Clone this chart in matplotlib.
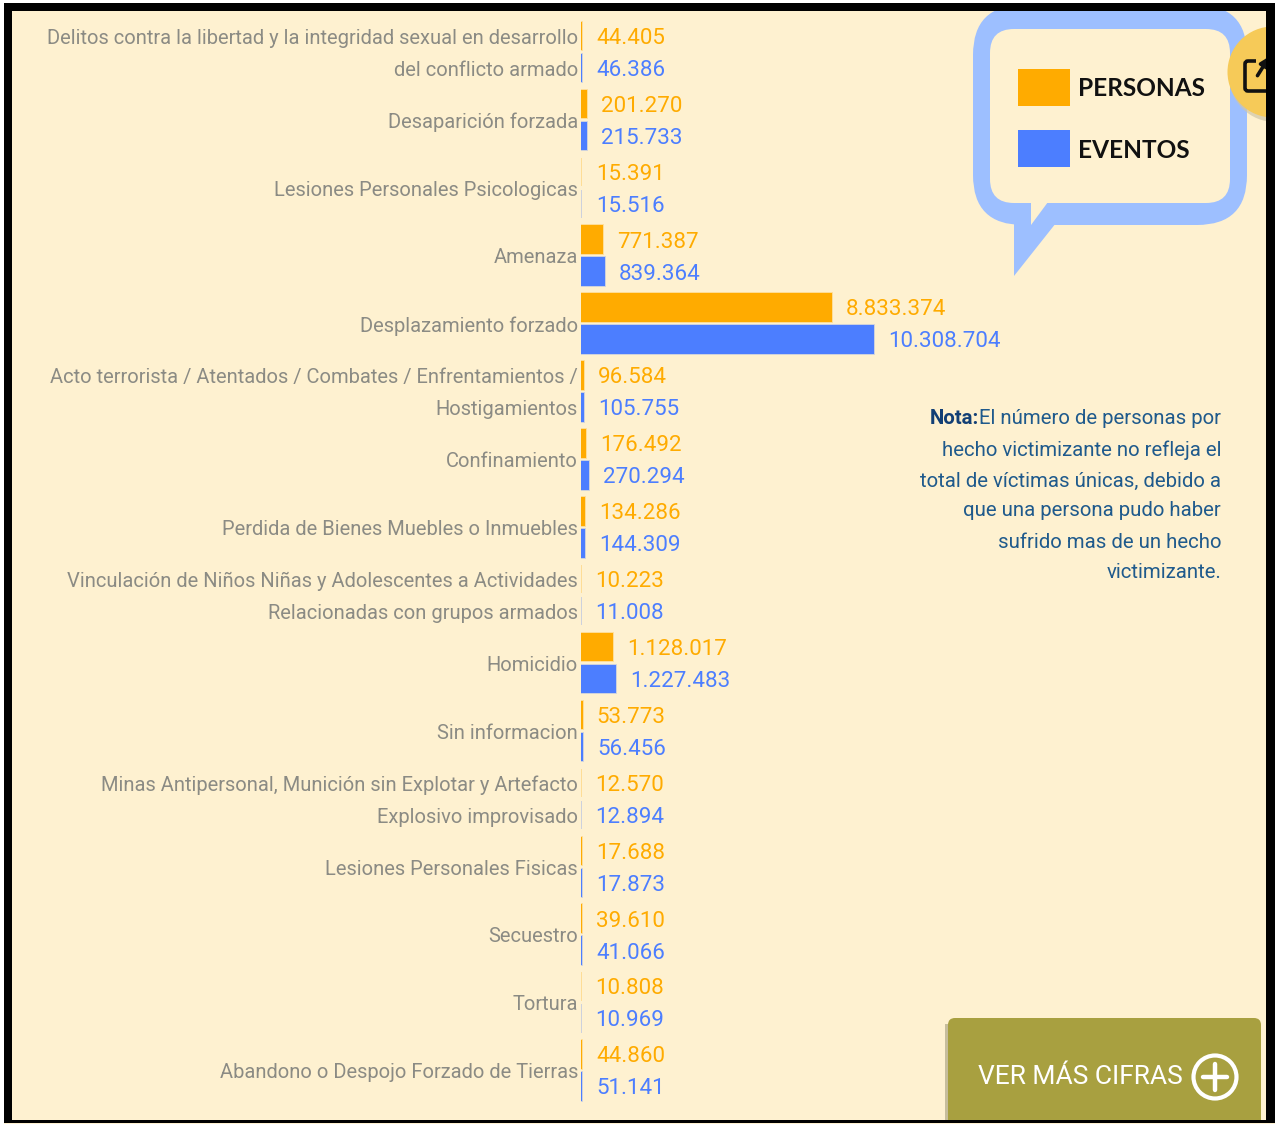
import matplotlib
matplotlib.use("Agg")
import matplotlib.pyplot as plt
from matplotlib.colors import to_rgba
from matplotlib.patches import FancyBboxPatch, Rectangle, Polygon, Circle
from matplotlib.transforms import ScaledTranslation

categories = [
    "Delitos contra la libertad y la integridad sexual en desarrollo\ndel conflicto armado",
    "Desaparición forzada",
    "Lesiones Personales Psicologicas",
    "Amenaza",
    "Desplazamiento forzado",
    "Acto terrorista / Atentados / Combates / Enfrentamientos /\nHostigamientos",
    "Confinamiento",
    "Perdida de Bienes Muebles o Inmuebles",
    "Vinculación de Niños Niñas y Adolescentes a Actividades\nRelacionadas con grupos armados",
    "Homicidio",
    "Sin informacion",
    "Minas Antipersonal, Munición sin Explotar y Artefacto\nExplosivo improvisado",
    "Lesiones Personales Fisicas",
    "Secuestro",
    "Tortura",
    "Abandono o Despojo Forzado de Tierras",
]
personas = [44405, 201270, 15391, 771387, 8833374, 96584, 176492, 134286,
            10223, 1128017, 53773, 12570, 17688, 39610, 10808, 44860]
eventos = [46386, 215733, 15516, 839364, 10308704, 105755, 270294, 144309,
           11008, 1227483, 56456, 12894, 17873, 41066, 10969, 51141]
nota_lines = ["El número de personas por", "hecho victimizante no refleja el",
              "total de víctimas únicas, debido a", "que una persona pudo haber",
              "sufrido mas de un hecho", "victimizante."]

W, H = 1275, 1124
BG, ORANGE, BLUE = "#FEF1D0", "#FFAB00", "#4C7EFF"
BUBBLE, GREY, NOTE = "#9DBFFF", "#8B8B84", "#1F5A8C"
FONT = "Roboto"

fig = plt.figure(figsize=(W / 100, H / 100), dpi=100, facecolor="white")
bg = fig.add_axes([0, 0, 1, 1], zorder=0)
bg.set_xlim(0, W); bg.set_ylim(H, 0); bg.axis("off")

# panel
bg.add_patch(Rectangle((4, 3), W, H, fc=BG, ec="none", zorder=0))

# speech bubble legend
bg.add_patch(FancyBboxPatch((973 + 50, 5 + 50), 174, 120,
                            boxstyle="round,pad=50,rounding_size=50", fc=BUBBLE, ec="none", zorder=1))
bg.add_patch(Polygon([(1014, 276), (1014, 215), (1056, 223)], fc=BUBBLE, ec="none", zorder=1))
bg.add_patch(FancyBboxPatch((990 + 24, 29 + 24), 192, 126,
                            boxstyle="round,pad=24,rounding_size=24", fc=BG, ec="none", zorder=2))
bg.add_patch(Polygon([(1031, 225), (1031, 202), (1048, 202)], fc=BG, ec="none", zorder=2))
bg.add_patch(Rectangle((1018, 69), 52, 37, fc=ORANGE, ec="none", zorder=3))
bg.add_patch(Rectangle((1018, 130), 52, 37, fc=BLUE, ec="none", zorder=3))
bg.text(1078, 89, "PERSONAS", family="Lato", fontweight="bold", fontsize=17.6, color="#111111",
        va="center", ha="left", zorder=3)
bg.text(1078, 150, "EVENTOS", family="Lato", fontweight="bold", fontsize=17.6, color="#111111",
        va="center", ha="left", zorder=3)

# share button
bg.add_patch(Circle((1275, 76), 46, fc="#CFC6A8", ec="none", zorder=3, alpha=0.7))
bg.add_patch(Circle((1273, 72), 45.5, fc="#F6CA58", ec="none", zorder=4))
bg.add_patch(FancyBboxPatch((1245, 61), 30, 30, boxstyle="round,pad=0,rounding_size=3",
                            fc="none", ec="#111111", lw=2.6, zorder=5))
bg.add_patch(Rectangle((1256, 50), 18, 15, fc="#F6CA58", ec="none", zorder=5))
bg.annotate("", xy=(1271, 54), xytext=(1256, 78), zorder=6,
            arrowprops=dict(arrowstyle="-|>", color="#111111", lw=2.6, mutation_scale=13))

# note
ys = [418, 450, 481, 511, 542, 572]
first = None
for line, y in zip(nota_lines, ys):
    t = bg.text(1221, y, line, family=FONT, fontsize=14.7, color=NOTE, ha="right", va="center")
    first = first or t
bg.annotate("Nota:", xy=(0, 0.5), xycoords=first, ha="right", va="center", family=FONT,
            fontsize=14.7, fontweight="bold", color="#123F75")

# call-to-action button
bg.add_patch(Rectangle((945, 1024), 10, 96, fc="#8F8A6A", ec="none", zorder=1, alpha=0.5))
bg.add_patch(FancyBboxPatch((948, 1018), 313, 60, boxstyle="round,pad=0,rounding_size=7",
                            fc="#A8A040", ec="none", zorder=2))
bg.add_patch(Rectangle((948, 1050), 313, 71, fc="#A8A040", ec="none", zorder=2))
bg.text(978, 1077, "VER MÁS CIFRAS", family=FONT, fontsize=19, color="white",
        ha="left", va="center", zorder=3)
bg.add_patch(Circle((1215, 1077), 21.5, fc="none", ec="white", lw=3, zorder=3))
bg.plot([1215, 1215], [1064, 1090], color="white", lw=3.2, zorder=3, solid_capstyle="round")
bg.plot([1203, 1227], [1077, 1077], color="white", lw=3.2, zorder=3, solid_capstyle="round")

# black frame
for r in [(4, 3, W, 8), (4, 3, 8, 1120), (1266, 3, 9, 1120), (4, 1120, W, 3)]:
    bg.add_patch(Rectangle((r[0], r[1]), r[2], r[3], fc="black", ec="none", zorder=10))

# chart: x=0 at 581 px, 28.4 px per million; rows 67.9 px apart
X0, PXM, Y0, STEP = 581, 28.4e-6, 52, 67.9
top, bottom, right = 11, 1120, 1265
ax = fig.add_axes([X0 / W, 1 - bottom / H, (right - X0) / W, (bottom - top) / H],
                  zorder=1, facecolor="none")
ax.set_xlim(0, (right - X0) / PXM)
ax.set_ylim((bottom - Y0) / STEP, (top - Y0) / STEP)
pos = list(range(len(categories)))
off, h = 16 / STEP, 28.5 / STEP
b1 = ax.barh([p - off for p in pos], personas, height=h, left=0, color=ORANGE,
             edgecolor=to_rgba(ORANGE, 0.3), linewidth=1.3)
b2 = ax.barh([p + off for p in pos], eventos, height=h, left=0, color=BLUE,
             edgecolor=to_rgba(BLUE, 0.3), linewidth=1.3)
fmt = lambda v: f"{v:,}".replace(",", ".")
lab1 = ax.bar_label(b1, labels=[fmt(v) for v in personas], padding=10.3, color=ORANGE,
                    family=FONT, fontsize=16.1)
lab2 = ax.bar_label(b2, labels=[fmt(v) for v in eventos], padding=10.3, color=BLUE,
                    family=FONT, fontsize=16.1)
for a in list(lab1) + list(lab2):
    a.xyann = (10.3, -1.7)
ax.set_yticks(pos)
ax.set_yticklabels(categories, family=FONT, fontsize=14.5, color=GREY, linespacing=1.88)
ax.tick_params(axis="y", length=0, pad=2.2)
shift = ScaledTranslation(0, -2.2 / 100, fig.dpi_scale_trans)
for lbl in ax.get_yticklabels():
    lbl.set_verticalalignment("center")
    lbl.set_transform(lbl.get_transform() + shift)
ax.set_xticks([])
for s in ax.spines.values():
    s.set_visible(False)

fig.savefig("out.png", dpi=100, facecolor="white")
